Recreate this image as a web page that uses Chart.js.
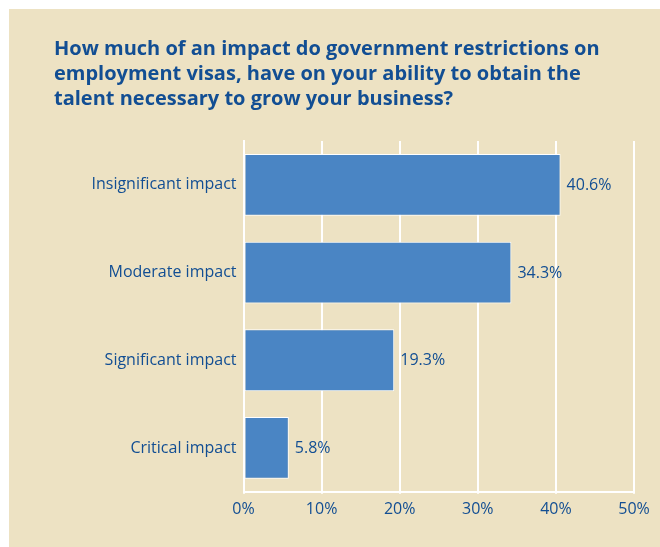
<!DOCTYPE html>
<html>
<head>
<meta charset="utf-8">
<script src="https://cdn.jsdelivr.net/npm/chart.js@4"></script>
<style>
  html, body { margin: 0; padding: 0; background: #ffffff; }
  #panel {
    position: absolute;
    left: 9px;
    top: 9px;
    width: 651px;
    height: 538px;
    background: #ede2c3;
  }
</style>
</head>
<body>
<div id="panel"><canvas id="visaChart" width="651" height="538"></canvas></div>
<script>
const categories = ['Insignificant impact', 'Moderate impact', 'Significant impact', 'Critical impact'];
const shares = [40.6, 34.3, 19.3, 5.8];
const tickValues = [0, 10, 20, 30, 40, 50];

const textBlue = '#124e93';
const barBlue = '#4a85c4';

// writes the percentage just to the right of each bar
const valueLabels = {
    id: 'valueLabels',
    afterDatasetsDraw(chart) {
        const ctx = chart.ctx;
        const meta = chart.getDatasetMeta(0);
        ctx.save();
        ctx.font = '16px "Open Sans"';
        ctx.fillStyle = textBlue;
        ctx.textAlign = 'left';
        ctx.textBaseline = 'middle';
        meta.data.forEach(function (bar, i) {
            ctx.fillText(shares[i].toFixed(1) + '%', bar.x + 6, bar.y + 0.5);
        });
        ctx.restore();
    }
};

new Chart(document.getElementById('visaChart'), {
    type: 'bar',
    data: {
        labels: categories,
        datasets: [{
            data: shares,
            backgroundColor: barBlue,
            borderColor: '#ffffff',
            borderWidth: 1,
            borderSkipped: false,
            categoryPercentage: 1,
            barPercentage: 0.705
        }]
    },
    options: {
        indexAxis: 'y',
        responsive: false,
        animation: false,
        layout: {
            padding: { left: 45, right: 26, top: 0, bottom: 22 }
        },
        plugins: {
            legend: { display: false },
            tooltip: { enabled: false },
            title: {
                display: true,
                align: 'start',
                color: textBlue,
                text: [
                    'How much of an impact do government restrictions on',
                    'employment visas, have on your ability to obtain the',
                    'talent necessary to grow your business?'
                ],
                font: { family: '"Open Sans"', size: 20, weight: 'bold', lineHeight: 1.25 },
                padding: { top: 27.5, bottom: 29.5 }
            }
        },
        scales: {
            x: {
                min: 0,
                max: 50,
                afterBuildTicks(scale) {
                    scale.ticks = tickValues.map(v => ({ value: v }));
                },
                grid: { color: '#ffffff', lineWidth: 2, drawTicks: true, tickLength: 2 },
                border: { color: '#ffffff', width: 2 },
                ticks: {
                    color: textBlue,
                    font: { family: '"Open Sans"', size: 16 },
                    padding: 6,
                    maxRotation: 0,
                    callback: v => v + '%'
                }
            },
            y: {
                afterFit(scale) {
                    scale.width = 189.5;
                },
                grid: { display: false, drawTicks: false },
                border: { color: '#ffffff', width: 2 },
                ticks: {
                    color: textBlue,
                    font: { family: '"Open Sans"', size: 16 },
                    padding: 7
                }
            }
        }
    },
    plugins: [valueLabels]
});
</script>
</body>
</html>
